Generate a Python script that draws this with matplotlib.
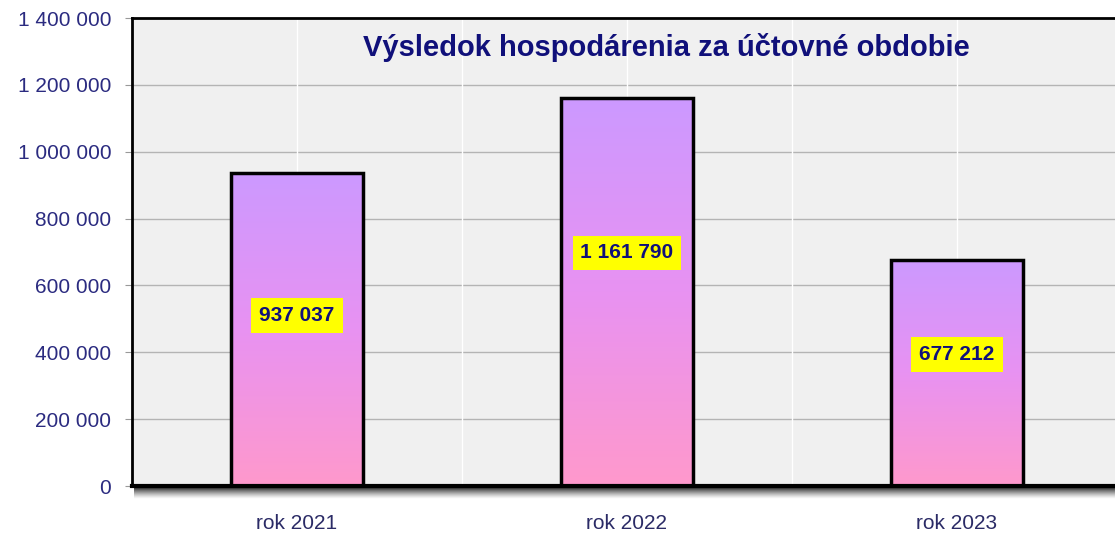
import numpy as np
import matplotlib
matplotlib.use('Agg')
import matplotlib.pyplot as plt
from matplotlib.colors import LinearSegmentedColormap

categories = ['rok 2021', 'rok 2022', 'rok 2023']
values = [937037, 1161790, 677212]
value_labels = ['937 037', '1 161 790', '677 212']
label_frac = [0.545, 0.6, 0.58]  # where the yellow boxes sit inside the bars
yticks = [0, 200000, 400000, 600000, 800000, 1000000, 1200000, 1400000]
ytick_labels = ['0', '200 000', '400 000', '600 000', '800 000',
                '1 000 000', '1 200 000', '1 400 000']
title = 'Výsledok hospodárenia za účtovné obdobie'

plt.rcParams['font.family'] = ['Liberation Sans', 'DejaVu Sans']
navy = '#10107a'

fig = plt.figure(figsize=(11.15, 5.47), dpi=100)
fig.patch.set_facecolor('white')
ax = fig.add_axes([132 / 1115, 61 / 547, 990 / 1115, 468 / 547])
ax.set_facecolor('#f0f0f0')
ax.set_xlim(-0.5, 2.5)
ax.set_ylim(0, 1400000)

# grid
for y in yticks[1:-1]:
    ax.axhline(y, color='#b4b4b4', lw=1, zorder=1)
for x in np.arange(0, 3, 0.5):
    ax.axvline(x, color='white', lw=1, zorder=1)

cmap = LinearSegmentedColormap.from_list('pk', ['#ff99cc', '#e892f2', '#cc99ff'])
grad = np.linspace(0, 1, 256).reshape(-1, 1)
x = np.arange(len(categories))
bars = ax.bar(x, values, width=0.4, facecolor='none', edgecolor='black',
              linewidth=2.5, zorder=3)
for b, v in zip(bars, values):
    x0, w = b.get_x(), b.get_width()
    im = ax.imshow(grad, cmap=cmap, origin='lower', aspect='auto',
                   extent=(x0, x0 + w, 0, v), zorder=2)
    im.set_clip_path(b)

for xi, v, lab, f in zip(x, values, value_labels, label_frac):
    ax.text(xi, v * f, lab, ha='center', va='center', fontsize=15,
            fontweight='bold', color=navy, zorder=4,
            bbox=dict(boxstyle='square,pad=0.38', fc='#ffff00', ec='none'))

ax.set_yticks(yticks)
ax.set_yticklabels(ytick_labels, fontsize=15, color='#2b2b80')
ax.set_xticks(x)
ax.set_xticklabels(categories, fontsize=15, color='#2b2b66')
ax.tick_params(axis='y', length=5, color='#999999', pad=10)
ax.tick_params(axis='x', length=0, pad=20)

for s in ['top', 'left']:
    ax.spines[s].set_linewidth(2)
    ax.spines[s].set_color('black')
ax.spines['right'].set_visible(False)
ax.spines['bottom'].set_linewidth(3)
ax.spines['bottom'].set_color('black')
ax.spines['bottom'].set_zorder(5)

# soft shadow under the bottom axis line
sh = fig.add_axes([134 / 1115, (547 - 499) / 547, 990 / 1115, 12 / 547])
sh.axis('off')
shade = np.zeros((64, 2, 4))
shade[..., 3] = np.linspace(0.9, 0.0, 64)[:, None] ** 1.3
sh.imshow(shade, aspect='auto', extent=(0, 1, 0, 1), origin='upper')

fig.text(666 / 1115, 1 - 47 / 547, title, ha='center', va='center',
         fontsize=21, fontweight='bold', color=navy)

fig.savefig('out.png', dpi=100)
